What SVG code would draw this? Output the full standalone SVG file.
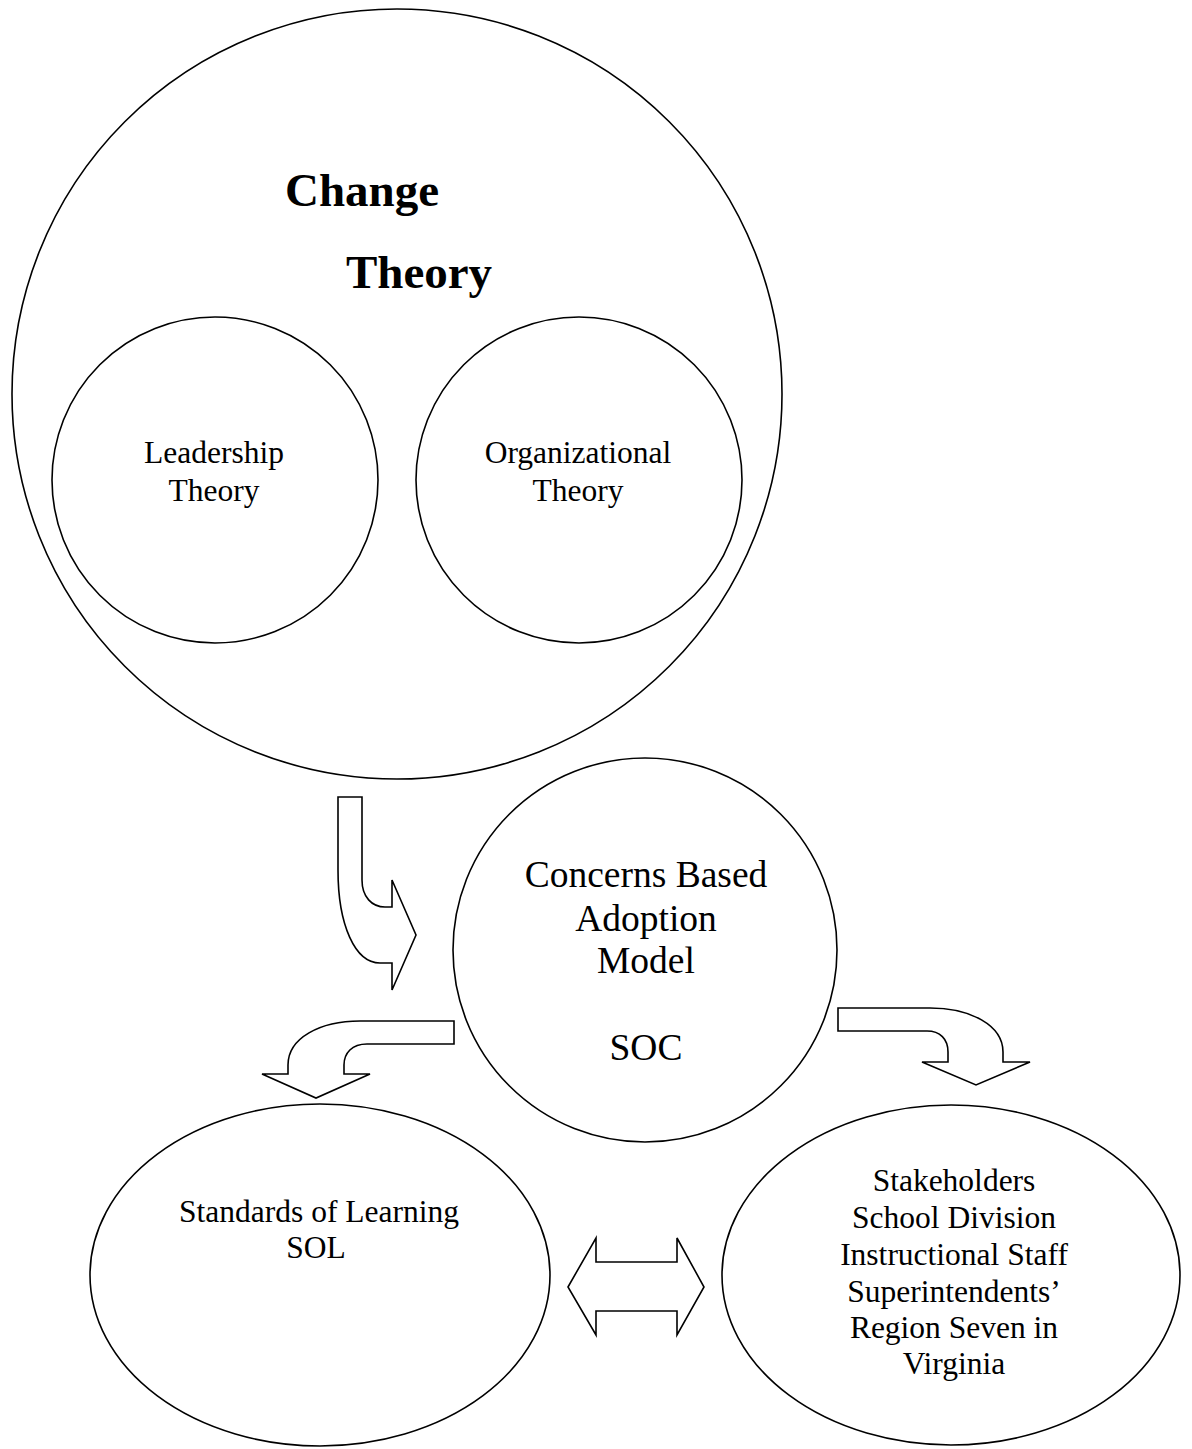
<svg xmlns="http://www.w3.org/2000/svg" width="1192" height="1449" viewBox="0 0 1192 1449">
<style>
.s{fill:#fff;stroke:#000;stroke-width:1.6}
.t{font-family:"Liberation Serif","Times New Roman",serif;font-size:31.5px;fill:#000;text-anchor:middle}
.b{font-family:"Liberation Serif","Times New Roman",serif;font-size:47px;font-weight:bold;fill:#000;text-anchor:middle}
.m{font-family:"Liberation Serif","Times New Roman",serif;font-size:37.5px;fill:#000;text-anchor:middle}
</style>
<rect width="1192" height="1449" fill="#fff"/>
<g id="change-theory">
<circle class="s" cx="397" cy="394" r="385"/>
<text class="b" x="362" y="206">Change</text>
<text class="b" x="419" y="288">Theory</text>
</g>
<g id="leadership-theory">
<circle class="s" cx="215" cy="480" r="163"/>
<text class="t" x="214" y="463">Leadership</text>
<text class="t" x="214" y="501">Theory</text>
</g>
<g id="organizational-theory">
<circle class="s" cx="579" cy="480" r="163"/>
<text class="t" x="578" y="463">Organizational</text>
<text class="t" x="578" y="501">Theory</text>
</g>
<g id="cbam">
<circle class="s" cx="645" cy="950" r="192"/>
<text class="m" x="646" y="887">Concerns Based</text>
<text class="m" x="646" y="931">Adoption</text>
<text class="m" x="646" y="973">Model</text>
<text class="m" x="646" y="1060">SOC</text>
</g>
<g id="sol">
<ellipse class="s" cx="320" cy="1275" rx="230" ry="171"/>
<text class="t" x="319" y="1222">Standards of Learning</text>
<text class="t" x="316" y="1258">SOL</text>
</g>
<g id="stakeholders">
<ellipse class="s" cx="951" cy="1275" rx="229" ry="170"/>
<text class="t" x="954" y="1191">Stakeholders</text>
<text class="t" x="954" y="1228">School Division</text>
<text class="t" x="954" y="1265">Instructional Staff</text>
<text class="t" x="954" y="1302">Superintendents’</text>
<text class="t" x="954" y="1338">Region Seven in</text>
<text class="t" x="954" y="1374">Virginia</text>
</g>
<g id="connectors">
<path class="s" d="M338,797 H362 V880 C362,897 372,907 385,907 H392 V880 L416,935 L392,990 V963 H380 C355,963 338,925 338,870 Z"/>
<path class="s" d="M454,1021 V1044 H367 C352,1044 344,1053 344,1065 V1074 H370 L316,1098 L262,1074 H288 V1065 C288,1038 320,1021 360,1021 Z"/>
<path class="s" d="M838,1008 H930 C970,1008 1003,1025 1003,1052 V1062 H1030 L976,1085 L922,1062 H948 V1052 C948,1039 940,1031 927,1031 H838 Z"/>
<path class="s" d="M568,1287 L596,1238 V1262 H677 V1238 L704,1287 L677,1335 V1311 H596 V1335 Z"/>
</g>
</svg>
